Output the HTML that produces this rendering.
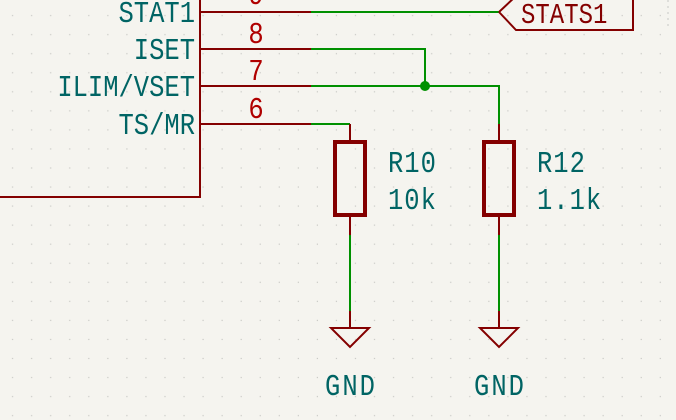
<!DOCTYPE html>
<html><head><style>
html,body{margin:0;padding:0;background:#f5f4ef;}
svg{display:block;}
text{font-family:"Liberation Mono","DejaVu Sans Mono",monospace;}
</style></head><body>
<svg width="676" height="420" viewBox="0 0 676 420" xmlns="http://www.w3.org/2000/svg">
<defs>
<pattern id="g" x="0" y="0" width="19.05" height="19.05" patternUnits="userSpaceOnUse">
<rect x="12" y="15" width="1.2" height="1.2" fill="#c8c8c4"/>
</pattern>
</defs>
<rect width="676" height="420" fill="#f5f4ef"/>
<rect width="676" height="420" fill="url(#g)"/>
<polyline points="200,0 200,197 0,197" fill="none" stroke="#840000" stroke-width="2"/>
<g stroke="#840000" stroke-width="2">
<line x1="200" y1="12" x2="311" y2="12"/>
<line x1="200" y1="49" x2="311" y2="49"/>
<line x1="200" y1="86" x2="311" y2="86"/>
<line x1="200" y1="124" x2="311" y2="124"/>
</g>
<g font-size="25.5" fill="#006464" text-anchor="end">
<text transform="translate(195,22) scale(1,1.2)">STAT1</text>
<text transform="translate(195,59) scale(1,1.2)">ISET</text>
<text transform="translate(195,96) scale(1,1.2)">ILIM/VSET</text>
<text transform="translate(195,134) scale(1,1.2)">TS/MR</text>
</g>
<g font-size="25.5" fill="#b00000" text-anchor="middle">
<text transform="translate(256,4) scale(1,1.2)">9</text>
<text transform="translate(256,43) scale(1,1.2)">8</text>
<text transform="translate(256,80) scale(1,1.2)">7</text>
<text transform="translate(256,118) scale(1,1.2)">6</text>
</g>
<g stroke="#009000" stroke-width="2" fill="none">
<line x1="311" y1="12" x2="499" y2="12"/>
<polyline points="311,49 425,49 425,86"/>
<polyline points="311,86 499,86 499,124"/>
<polyline points="311,124 350,124"/>
<line x1="350" y1="235" x2="350" y2="311"/>
<line x1="499" y1="235" x2="499" y2="311"/>
</g>
<circle cx="425" cy="86" r="5" fill="#009000"/>
<polyline points="499,12 516,-4 633,-4 633,30 516,30 499,12" fill="none" stroke="#840000" stroke-width="2"/>
<text transform="translate(521,23) scale(1,1.2)" font-size="24" fill="#840000">STATS1</text>
<g stroke="#840000" fill="none">
<line x1="350" y1="124" x2="350" y2="142" stroke-width="2"/>
<line x1="499" y1="124" x2="499" y2="142" stroke-width="2"/>
<rect x="335" y="142" width="30" height="73" stroke-width="4"/>
<rect x="484" y="142" width="30" height="73" stroke-width="4"/>
<line x1="350" y1="215" x2="350" y2="235" stroke-width="2"/>
<line x1="499" y1="215" x2="499" y2="235" stroke-width="2"/>
<line x1="350" y1="311" x2="350" y2="328" stroke-width="2"/>
<line x1="499" y1="311" x2="499" y2="328" stroke-width="2"/>
<polygon points="331,328 369,328 350,347" stroke-width="2"/>
<polygon points="480,328 518,328 499,347" stroke-width="2"/>
</g>
<g font-size="25.5" fill="#006464">
<text transform="translate(388,172) scale(1,1.2)" letter-spacing="1">R10</text>
<text transform="translate(388,209) scale(1,1.2)" letter-spacing="1">10k</text>
<text transform="translate(537,172) scale(1,1.2)" letter-spacing="1">R12</text>
<text transform="translate(537,209) scale(1,1.2)" letter-spacing="1">1.1k</text>
<text transform="translate(351,395) scale(1,1.2)" text-anchor="middle" letter-spacing="2">GND</text>
<text transform="translate(500,395) scale(1,1.2)" text-anchor="middle" letter-spacing="2">GND</text>
</g>
<line x1="668" y1="0" x2="668" y2="30" stroke="#c8c8c4" stroke-width="1" stroke-dasharray="2,4"/>
</svg>
</body></html>
